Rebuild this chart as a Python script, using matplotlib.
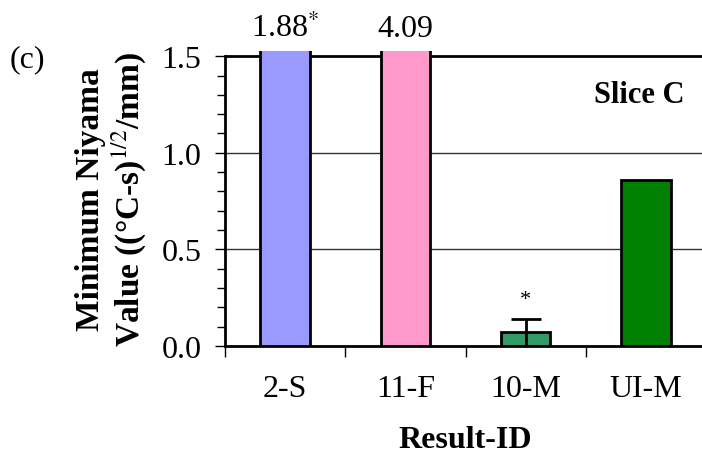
import matplotlib
matplotlib.use("Agg")
import matplotlib.pyplot as plt
from matplotlib.ticker import MultipleLocator, FixedLocator

plt.rcParams['font.family'] = ['Liberation Serif', 'DejaVu Serif']
plt.rcParams['mathtext.fontset'] = 'stix'

# data
categories = ["2-S", "11-F", "10-M", "UI-M"]
values = [1.88, 4.09, 0.072, 0.86]
errors = [0.0, 0.0, 0.07, 0.0]
bar_labels = ["1.88$^{*}$", "4.09", "", ""]
colors_ = ["#9999FF", "#FF99CC", "#339966", "#008000"]

fig = plt.figure(figsize=(7.02, 4.56), dpi=100)
ax = fig.add_axes([225/702, 1-347/456, 481/702, 295/456])

x = list(range(len(categories)))
ax.bar(x, values, width=0.41, color=colors_, edgecolor="black", linewidth=2, zorder=3)

# error bar only on 10-M (line runs down through the bar)
ax.errorbar([2], [values[2]], yerr=[[values[2]], [errors[2]]], fmt="none", ecolor="black",
            elinewidth=2, capsize=11, capthick=2, zorder=4)
ax.text(2, values[2] + errors[2] + 0.05, "*", ha="center", va="bottom", fontsize=16)

ax.set_xlim(-0.5, 3.5)
ax.set_ylim(0, 1.527)

# data labels above clipped bars
for i, lab in enumerate(bar_labels):
    if lab:
        ax.annotate(lab, (i, 1.527), xytext=(0, 6), textcoords="offset points",
                    ha="center", va="bottom", fontsize=23, annotation_clip=False)

# gridlines and top line
for g in [0.5, 1.0]:
    ax.axhline(g, color="#333333", linewidth=1, zorder=1)
ax.axhline(1.5, color="black", linewidth=2, zorder=2)

ax.spines["top"].set_visible(False)
ax.spines["right"].set_visible(False)
ax.spines["left"].set_linewidth(2)
ax.spines["left"].set_bounds(0, 1.5)
ax.spines["bottom"].set_linewidth(2)

ax.yaxis.set_major_locator(FixedLocator([0, 0.5, 1.0, 1.5]))
ax.yaxis.set_minor_locator(MultipleLocator(0.1))
ax.set_yticklabels(["0.0", "0.5", "1.0", "1.5"], fontsize=23)
ax.tick_params(axis="y", which="major", direction="out", length=7, width=1, pad=10)
ax.tick_params(axis="y", which="minor", direction="out", length=6, width=1)

ax.xaxis.set_major_locator(FixedLocator([-0.5, 0.5, 1.5, 2.5, 3.5]))
ax.xaxis.set_minor_locator(FixedLocator(x))
ax.set_xticklabels([])
ax.set_xticklabels(categories, minor=True, fontsize=23)
ax.tick_params(axis="x", which="major", direction="out", length=8, width=1)
ax.tick_params(axis="x", which="minor", length=0, pad=20)

ax.set_xlabel("Result-ID", fontsize=23, fontweight="bold", labelpad=16)
ax.set_ylabel("Minimum Niyama\nValue ((°C-s)$^{1/2}$/mm)", fontsize=24,
              fontweight="bold", labelpad=10, linespacing=1.1)

ax.text(3.32, 1.30, "Slice C", ha="right", va="center", fontsize=22, fontweight="bold")
fig.text(27/702, 1-60/456, "(c)", ha="center", va="center", fontsize=23)

fig.savefig("out.png", dpi=100)
